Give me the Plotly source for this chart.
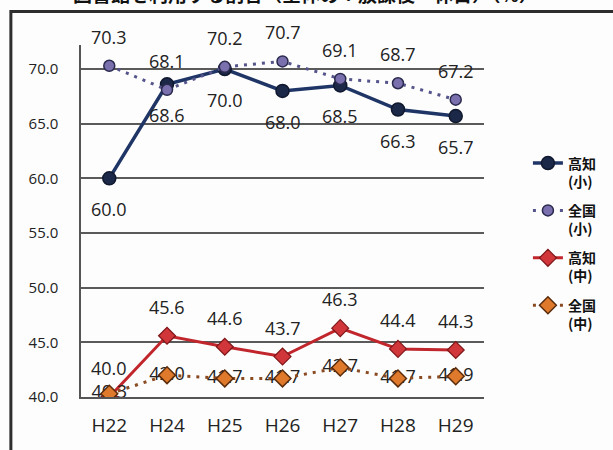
import plotly.graph_objects as go

# Survey years and percentages
years = ["H22", "H24", "H25", "H26", "H27", "H28", "H29"]
kochi_elem = [60.0, 68.6, 70.0, 68.0, 68.5, 66.3, 65.7]
national_elem = [70.3, 68.1, 70.2, 70.7, 69.1, 68.7, 67.2]
kochi_jhs = [40.0, 45.6, 44.6, 43.7, 46.3, 44.4, 44.3]
national_jhs = [40.3, 42.0, 41.7, 41.7, 42.7, 41.7, 41.9]

series_names = ["高知<br>(小)", "全国<br>(小)", "高知<br>(中)", "全国<br>(中)"]
title_text = "図書館を利用する割合（全体の：放課後・休日）（%）"

NUM_FONT = "Open Sans, Liberation Sans, sans-serif"
CJK_FONT = "Noto Sans CJK JP, sans-serif"

fig = go.Figure()

fig.add_trace(go.Scatter(
    x=years, y=kochi_elem, name=series_names[0], legendgroup="a",
    mode="lines+markers",
    line=dict(color="#1f3566", width=3.5),
    marker=dict(symbol="circle", size=13, color="#1c2848",
                line=dict(color="#10182e", width=1.5)),
))
fig.add_trace(go.Scatter(
    x=years, y=national_elem, name=series_names[1], legendgroup="b",
    mode="lines+markers",
    line=dict(color="#55558c", width=3, dash="3px,6px"),
    marker=dict(symbol="circle", size=11, color="#7a70ae",
                line=dict(color="#2a2a4e", width=1.5)),
))
fig.add_trace(go.Scatter(
    x=years, y=kochi_jhs, name=series_names[2], legendgroup="c",
    mode="lines+markers",
    line=dict(color="#c0262c", width=3),
    marker=dict(symbol="diamond", size=13, color="#d0363a",
                line=dict(color="#7e1518", width=1.2)),
))
# value labels of the national junior-high series sit under its markers
fig.add_trace(go.Scatter(
    x=years, y=national_jhs, mode="text", showlegend=False, hoverinfo="skip",
    text=[f"{v:.1f}" for v in national_jhs], textposition="middle center",
    textfont=dict(family=NUM_FONT, size=18, color="#222222"),
))
fig.add_trace(go.Scatter(
    x=years, y=national_jhs, name=series_names[3], legendgroup="d",
    mode="lines+markers",
    line=dict(color="#8a4a22", width=3, dash="3px,6px"),
    marker=dict(symbol="diamond", size=13, color="#df7a2c",
                line=dict(color="#5a2c0c", width=1.5)),
))

# value labels above / below the points
label_specs = [
    (kochi_elem, -31),
    (national_elem, 29),
    (kochi_jhs, 29),
]
annotations = []
for values, shift in label_specs:
    for cat, v in zip(years, values):
        annotations.append(dict(
            x=cat, y=v, xref="x", yref="y", text=f"{v:.1f}", showarrow=False,
            yshift=shift, font=dict(family=NUM_FONT, size=18, color="#222222"),
        ))

# chart title running off the top edge
annotations.append(dict(
    x=0.557, y=1.103, xref="paper", yref="paper", xanchor="center",
    yanchor="bottom", showarrow=False, text=f"<b>{title_text}</b>",
    font=dict(family=CJK_FONT, size=19, color="#111111"),
))

fig.update_layout(
    width=613, height=450,
    margin=dict(l=81, r=121, t=45, b=47),
    paper_bgcolor="#fdfdfd", plot_bgcolor="#fdfdfd",
    annotations=annotations,
    showlegend=True,
    legend=dict(
        x=1.109, y=0.709, xanchor="left", yanchor="top",
        font=dict(family=CJK_FONT, size=14, color="#111111", weight="bold"),
        itemwidth=30, tracegroupgap=8, valign="top",
        bgcolor="rgba(0,0,0,0)",
    ),
    shapes=[dict(
        type="rect", xref="paper", yref="paper",
        x0=-0.174, x1=1.35, y0=-0.2, y1=1.095,
        line=dict(color="#2e2e2e", width=3), layer="below",
    )],
)

fig.update_xaxes(
    type="category", showgrid=False, showline=True,
    linecolor="#555555", linewidth=1.5, ticks="", ticklabelstandoff=10,
    tickfont=dict(family=NUM_FONT, size=19, color="#222222"),
)
fig.update_yaxes(
    range=[40, 72.2], tick0=40, dtick=5, tickformat=".1f",
    showgrid=True, gridcolor="#5a5a5a", gridwidth=1.5,
    showline=True, linecolor="#555555", linewidth=1.5,
    ticks="", ticklabelstandoff=18, zeroline=False,
    tickfont=dict(family=NUM_FONT, size=15, color="#222222"),
)

fig.write_html("out.html")
